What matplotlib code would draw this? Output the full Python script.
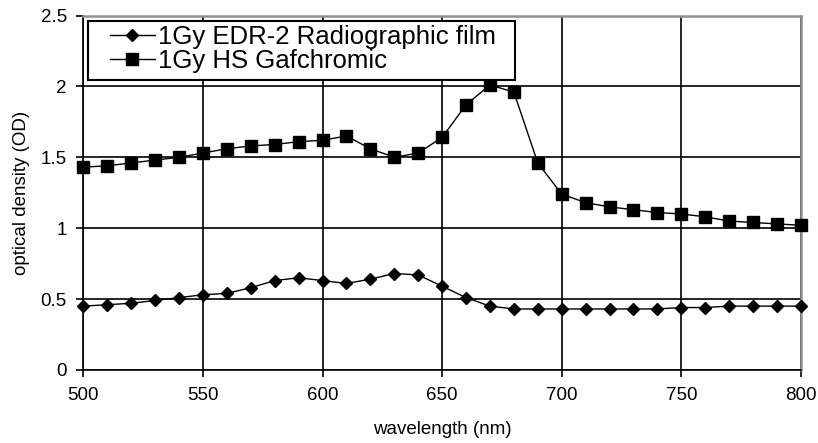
import matplotlib.pyplot as plt
from matplotlib.patches import Rectangle
from matplotlib.ticker import FuncFormatter

plt.rcParams['font.family'] = ['Liberation Sans', 'DejaVu Sans']

wavelength = list(range(500, 801, 10))
edr2 = [0.45, 0.46, 0.47, 0.49, 0.51, 0.53, 0.54, 0.58, 0.63, 0.65,
        0.63, 0.61, 0.64, 0.68, 0.67, 0.59, 0.51, 0.45, 0.43, 0.43,
        0.43, 0.43, 0.43, 0.43, 0.43, 0.44, 0.44, 0.45, 0.45, 0.45, 0.45]
hs_gaf = [1.43, 1.44, 1.46, 1.48, 1.50, 1.53, 1.56, 1.58, 1.59, 1.61,
          1.62, 1.65, 1.56, 1.50, 1.53, 1.64, 1.87, 2.01, 1.96, 1.46,
          1.24, 1.18, 1.15, 1.13, 1.11, 1.10, 1.08, 1.05, 1.04, 1.03, 1.02]
series_labels = ['1Gy EDR-2 Radiographic film', '1Gy HS Gafchromic']

fig = plt.figure(figsize=(8.18, 4.43), dpi=100)
ax = fig.add_axes([0.102, 0.165, 0.877, 0.8])

ax.plot(wavelength, edr2, color='black', lw=1, marker='D', markersize=6,
        label=series_labels[0], clip_on=False, zorder=3)
ax.plot(wavelength, hs_gaf, color='black', lw=1, marker='s', markersize=8,
        label=series_labels[1], clip_on=False, zorder=3)

ax.set_xlim(500, 800)
ax.set_ylim(0, 2.5)
ax.set_xticks(range(500, 801, 50))
ax.set_yticks([0, 0.5, 1, 1.5, 2, 2.5])
ax.yaxis.set_major_formatter(FuncFormatter(lambda v, p: f'{v:g}'))
ax.grid(True, color='black', lw=1.2)
ax.set_axisbelow(True)

for side in ['top', 'right']:
    ax.spines[side].set_color('#909090')
    ax.spines[side].set_linewidth(1.8)
for side in ['left', 'bottom']:
    ax.spines[side].set_color('black')
    ax.spines[side].set_linewidth(1.2)

ax.tick_params(direction='out', length=5, width=1.2, labelsize=13.5, pad=7)
ax.set_xlabel('wavelength (nm)', fontsize=13.5)
ax.set_ylabel('optical density (OD)', fontsize=13.5)
ax.xaxis.set_label_coords(0.5, -0.145)
ax.yaxis.set_label_coords(-0.075, 0.5)

# legend box drawn separately so the padding matches the original
frame = Rectangle((0.0063, 0.818), 0.595, 0.1665, transform=ax.transAxes,
                  facecolor='white', edgecolor='black', lw=1.5, zorder=4)
ax.add_patch(frame)
leg = ax.legend(loc='upper left', bbox_to_anchor=(0.037, 0.972), fontsize=18.5,
                frameon=False, handlelength=1.75, handletextpad=0.12,
                borderpad=0, labelspacing=0.0, borderaxespad=0)
leg.set_zorder(5)

fig.savefig('out.png', dpi=100)
